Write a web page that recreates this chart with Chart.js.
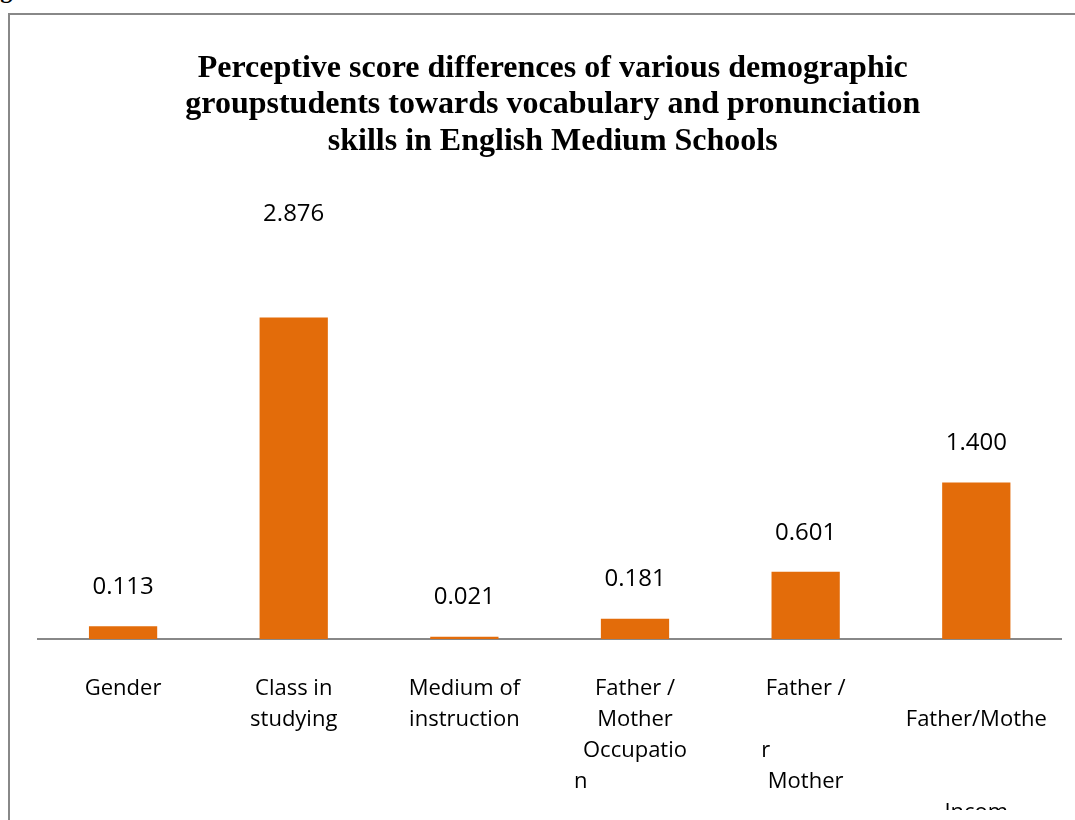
<!DOCTYPE html>
<html>
<head>
<meta charset="utf-8">
<script src="https://cdn.jsdelivr.net/npm/chart.js@4"></script>
<style>
  body { margin: 0; background: #fff; overflow: hidden; }
  #fig { position: absolute; left: -21px; top: -22px; font: bold 24px "Liberation Serif", serif; line-height: 24px; color: #000; }
  #frame { position: absolute; left: 8px; top: 13px; width: 1100px; height: 900px; border-left: 2px solid #888; border-top: 2px solid #888; }
  #wrap { position: absolute; left: 10px; top: 15px; width: 1065px; height: 795px; overflow: hidden; }
</style>
</head>
<body>
<div id="fig">Fig</div>
<div id="frame"></div>
<div id="wrap"><canvas id="chart" width="1072" height="869"></canvas></div>
<script>
const chart1 = document.getElementById('chart');

// Chart data
const categories = [
    'Gender',
    ['Class in', 'studying'],
    ['Medium of', 'instruction'],
    ['Father /', 'Mother', 'Occupatio', 'n                   '],
    ['Father /', '', 'r              ', 'Mother'],
    ['', 'Father/Mothe', '', '', 'Incom']
];
const scores = [0.113, 2.876, 0.021, 0.181, 0.601, 1.400];
const scoreLabels = ['0.113', '2.876', '0.021', '0.181', '0.601', '1.400'];
const titleLines = [
    'Perceptive score differences of various demographic',
    'groupstudents towards vocabulary and pronunciation',
    'skills in English Medium Schools'
];

// Draws the value above each bar
const valueLabels = {
    id: 'valueLabels',
    afterDatasetsDraw(chart, args, opts) {
        const ctx = chart.ctx;
        const bars = chart.getDatasetMeta(0).data;
        ctx.save();
        ctx.font = '24px "Open Sans", sans-serif';
        ctx.fillStyle = '#000';
        ctx.textAlign = 'center';
        ctx.textBaseline = 'middle';
        bars.forEach((bar, i) => {
            ctx.fillText(scoreLabels[i], bar.x, bar.y - opts.lift[i]);
        });
        ctx.restore();
    }
};

Chart.defaults.devicePixelRatio = 1;

new Chart(chart1, {
    type: 'bar',
    data: {
        labels: categories,
        datasets: [
            {
                data: scores,
                backgroundColor: '#E36C0A',
                barPercentage: 0.4,
                categoryPercentage: 1,
            },
        ],
    },
    options: {
        responsive: false,
        animation: false,
        layout: {
            padding: { left: 27.75, right: 14.25, top: 35, bottom: 22 },
        },
        plugins: {
            legend: { display: false },
            tooltip: { enabled: false },
            title: {
                display: true,
                text: titleLines,
                color: '#000',
                font: { family: '"Liberation Serif", "Times New Roman", serif', size: 32, weight: 'bold', lineHeight: 36.5 / 32 },
                padding: { top: 0, bottom: 17 },
            },
            valueLabels: { lift: [39, 103, 39, 40, 39, 39] },
        },
        scales: {
            x: {
                grid: { display: false, drawTicks: false },
                border: { display: true, color: '#888', width: 2 },
                ticks: {
                    color: '#000',
                    font: { family: '"Open Sans", sans-serif', size: 22, lineHeight: 31 / 22 },
                    padding: 34,
                    maxRotation: 0,
                    autoSkip: false,
                },
            },
            y: {
                display: false,
                min: 0,
                max: 4.138,
            },
        },
    },
    plugins: [valueLabels],
});
</script>
</body>
</html>
